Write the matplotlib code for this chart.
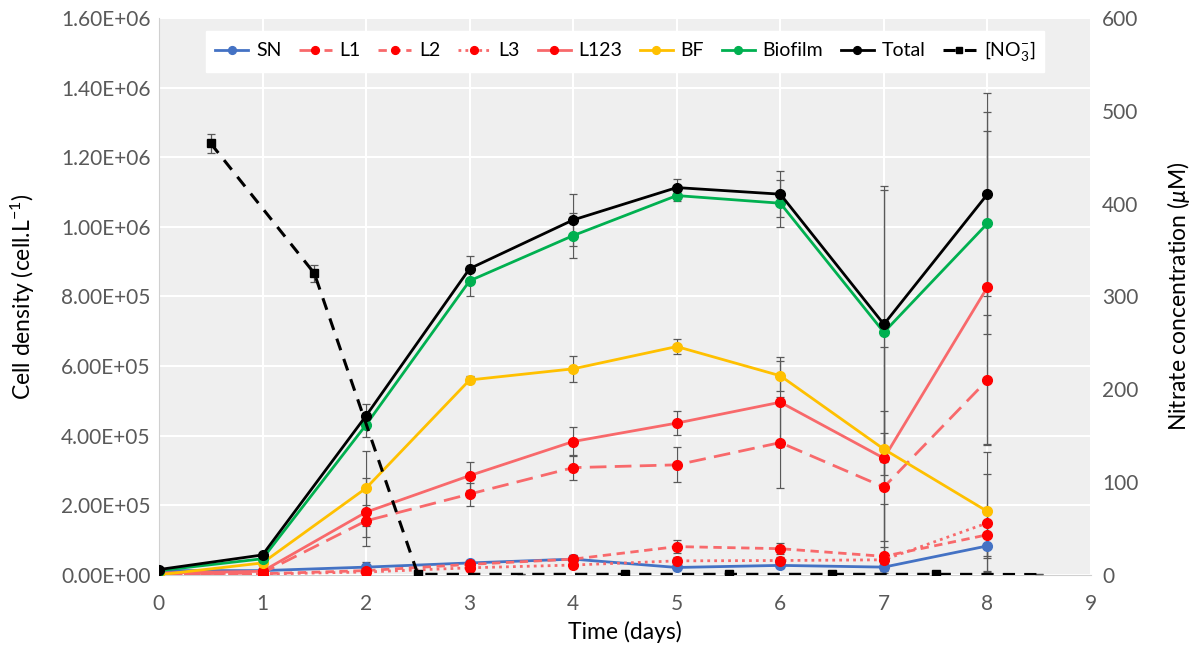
import numpy as np
import matplotlib
matplotlib.use("Agg")
from matplotlib import pyplot as plt
from matplotlib.ticker import FuncFormatter, MultipleLocator

plt.rcParams['font.family'] = ['Lato', 'DejaVu Sans']
plt.rcParams['mathtext.fontset'] = 'custom'
plt.rcParams['mathtext.rm'] = 'Lato'
plt.rcParams['mathtext.it'] = 'Lato:italic'

days = [0, 1, 2, 3, 4, 5, 6, 7, 8]

sn = [1.2e4, 1.2e4, 2.2e4, 3.4e4, 4.5e4, 2.1e4, 2.7e4, 2.2e4, 8.3e4]
sn_err = [3e3, 3e3, 1.5e4, 8e3, 1.2e4, 6e3, 8e3, 1.0e4, 3.5e4]
l1 = [2e3, 5e3, 1.55e5, 2.32e5, 3.08e5, 3.16e5, 3.8e5, 2.52e5, 5.6e5]
l1_err = [1e3, 2e3, 4.5e4, 3.3e4, 3.5e4, 5.0e4, 1.3e5, 1.55e5, 1.87e5]
l2 = [2e3, 3e3, 1.2e4, 3.0e4, 4.5e4, 8.1e4, 7.5e4, 5.3e4, 1.15e5]
l2_err = [1e3, 1e3, 5e3, 1.0e4, 1.2e4, 1.8e4, 1.5e4, 1.5e5, 6.0e4]
l3 = [1e3, 2e3, 8e3, 2.0e4, 2.8e4, 4.0e4, 4.1e4, 4.3e4, 1.49e5]
l3_err = [1e3, 1e3, 4e3, 6e3, 8e3, 1.0e4, 1.0e4, 3.8e4, 1.4e5]
l123 = [5e3, 1.0e4, 1.8e5, 2.85e5, 3.83e5, 4.36e5, 4.96e5, 3.35e5, 8.27e5]
l123_err = [2e3, 3e3, 9.7e4, 4.0e4, 4.1e4, 3.5e4, 1.3e5, 3.2e5, 4.5e5]
bf = [0, 3.4e4, 2.49e5, 5.6e5, 5.92e5, 6.56e5, 5.72e5, 3.61e5, 1.82e5]
bf_err = [1e3, 5e3, 1.08e5, 1.0e4, 3.8e4, 2.2e4, 4.3e4, 1.1e5, 1.7e5]
biofilm = [1.2e4, 4.6e4, 4.31e5, 8.45e5, 9.75e5, 1.09e6, 1.068e6, 6.97e5, 1.01e6]
biofilm_err = [3e3, 5e3, 3.5e4, 4.3e4, 6.5e4, 1.7e4, 6.8e4, 4.1e5, 3.19e5]
total = [1.5e4, 5.7e4, 4.57e5, 8.8e5, 1.02e6, 1.113e6, 1.094e6, 7.2e5, 1.094e6]
total_err = [3e3, 5e3, 3.5e4, 3.6e4, 7.4e4, 2.4e4, 6.7e4, 3.97e5, 2.92e5]

no3_days = [0.5, 1.5, 2.5, 3.5, 4.5, 5.5, 6.5, 7.5, 8.5]
no3 = [465, 325, 0.5, 0.5, 0.5, 0.5, 0.5, 0.5, 0.3]
no3_err = [10, 9, 0.3, 0, 0.3, 0.3, 0.3, 0.3, 0]
no3_marks = [0, 1, 2, 4, 5, 6, 7]

red_line = '#F8696B'
fig, ax = plt.subplots(figsize=(11.95, 6.48), dpi=100)
fig.subplots_adjust(left=0.133, right=0.913, top=0.972, bottom=0.113)
ax.set_facecolor('#EFEFEF')

err_kw = dict(ecolor='#595959', elinewidth=0.9, capsize=3, capthick=0.9)

series = [
    ('SN', sn, sn_err, '#4472C4', '#4472C4', '-'),
    ('L1', l1, l1_err, red_line, '#FF0000', (0, (6, 3))),
    ('L2', l2, l2_err, red_line, '#FF0000', (0, (3, 2))),
    ('L3', l3, l3_err, red_line, '#FF0000', (0, (1, 1.5))),
    ('L123', l123, l123_err, red_line, '#FF0000', '-'),
    ('BF', bf, bf_err, '#FFC000', '#FFC000', '-'),
    ('Biofilm', biofilm, biofilm_err, '#00B050', '#00B050', '-'),
    ('Total', total, total_err, '#000000', '#000000', '-'),
]

handles = []
for name, vals, errs, lc, mc, ls in series:
    ax.errorbar(days, vals, yerr=errs, fmt='none', zorder=2, **err_kw)
    h, = ax.plot(days, vals, color=lc, linestyle=ls, linewidth=2,
                 marker='o', markersize=7, markerfacecolor=mc,
                 markeredgecolor=mc, label=name, zorder=3)
    handles.append(h)

ax.set_xlim(0, 9)
ax.set_ylim(0, 1.6e6)
ax.xaxis.set_major_locator(MultipleLocator(1))
ax.yaxis.set_major_locator(MultipleLocator(2e5))
ax.yaxis.set_major_formatter(FuncFormatter(lambda v, p: f"{v:.2E}"))
ax.grid(True, color='white', linewidth=1.5)
ax.set_axisbelow(True)
for s in ['top', 'right']:
    ax.spines[s].set_visible(False)
for s in ['left', 'bottom']:
    ax.spines[s].set_color('#D0D0D0')
ax.tick_params(length=0, labelsize=15, labelcolor='#595959', pad=6)
ax.tick_params(axis='x', pad=14)
ax.set_xlabel('Time (days)', fontsize=16.5, labelpad=5)
ax.set_ylabel(r'Cell density (cell.L$^{-1}$)', fontsize=16.5, labelpad=17)

ax2 = ax.twinx()
ax2.set_ylim(0, 600)
ax2.yaxis.set_major_locator(MultipleLocator(100))
for s in ['top', 'right', 'left', 'bottom']:
    ax2.spines[s].set_visible(False)
ax2.tick_params(length=0, labelsize=15, labelcolor='#595959', pad=8)
ax2.set_ylabel(r'Nitrate concentration ($\mu$M)', fontsize=16.5, labelpad=19)
ax2.errorbar(no3_days, no3, yerr=no3_err, fmt='none', zorder=2, **err_kw)
h, = ax2.plot(no3_days, no3, color='black', linestyle=(0, (4, 3)), linewidth=2.2,
              marker='s', markersize=6, markevery=no3_marks,
              label=r'[NO$_3^{-}$]', zorder=3)
handles.append(h)

leg = ax2.legend(handles=handles, loc='upper center', bbox_to_anchor=(0.5, 0.995),
                 ncol=9, fontsize=14, frameon=True, fancybox=False,
                 edgecolor='white', facecolor='white', framealpha=1,
                 handlelength=1.7, handletextpad=0.4, columnspacing=0.9,
                 borderpad=0.45, markerscale=0.8)

fig.savefig('out.png', dpi=100)
